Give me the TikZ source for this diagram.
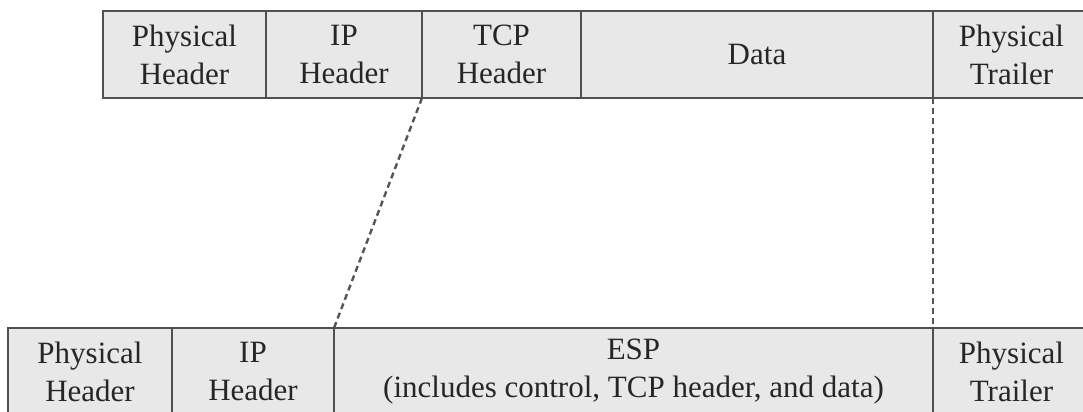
\documentclass[tikz,border=0pt]{standalone}
\usepackage{fontspec}
\setmainfont{Liberation Serif}
\usetikzlibrary{positioning}
\definecolor{cellfill}{RGB}{232,232,232}
\definecolor{celldraw}{RGB}{80,80,80}
\definecolor{dashgray}{RGB}{85,85,85}

\begin{document}
\begin{tikzpicture}[x=0.5pt, y=0.5pt,
  cell/.style={draw=celldraw, fill=cellfill, line width=1.1pt, outer sep=0pt, inner sep=0pt,
    minimum height=43.5pt, align=center, text=black!85, font=\fontsize{15.5}{19}\selectfont},
  link/.style={draw=dashgray, line width=1.2pt, dash pattern=on 3pt off 2pt}]
  \path[use as bounding box, clip] (0,0) rectangle (1083,412);

  % original packet
  \node[cell, minimum width=81.5pt, anchor=north west] (physhdr) at (103,401) {Physical\\Header};
  \node[cell, minimum width=78pt, right=0pt of physhdr] (iphdr) {IP\\Header};
  \node[cell, minimum width=79.5pt, right=0pt of iphdr] (tcphdr) {TCP\\Header};
  \node[cell, minimum width=176pt, right=0pt of tcphdr] (data) {Data};
  \node[cell, minimum width=78.5pt, right=0pt of data] (phystrl) {Physical\\Trailer};

  % packet with ESP
  \node[cell, minimum width=82pt, anchor=north west] (bphyshdr) at (8,84) {Physical\\Header};
  \node[cell, minimum width=81pt, right=0pt of bphyshdr] (biphdr) {IP\\Header};
  \node[cell, minimum width=299.5pt, right=0pt of biphdr] (esp) {ESP\\(includes control, TCP header, and data)};
  \node[cell, minimum width=78.5pt, right=0pt of esp] (bphystrl) {Physical\\Trailer};

  % mapping
  \draw[link] (tcphdr.south west) -- (esp.north west);
  \draw[link] (phystrl.south west) -- (bphystrl.north west);
\end{tikzpicture}
\end{document}
